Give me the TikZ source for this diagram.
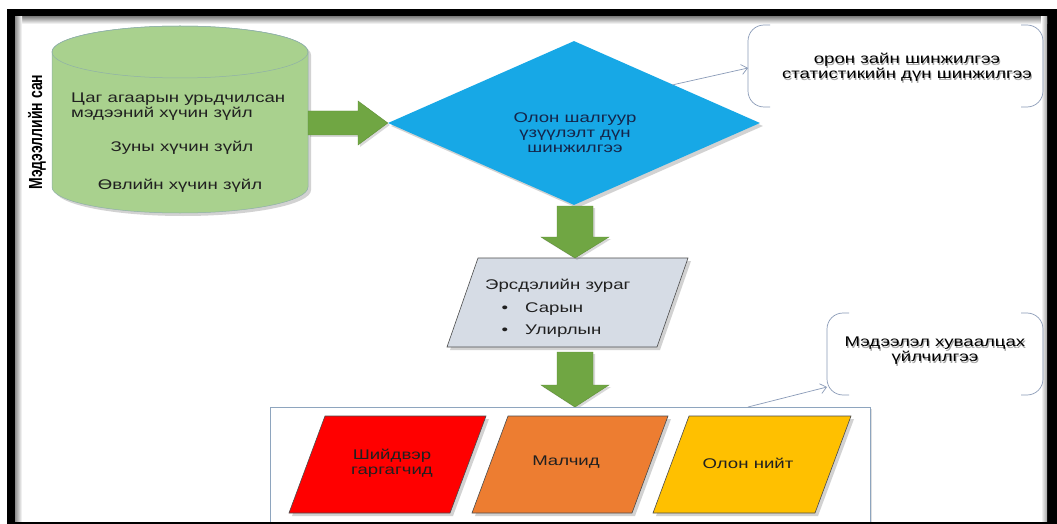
\documentclass[tikz,border=0pt]{standalone}
\usepackage{fontspec}
\setmainfont{Liberation Sans}[FakeStretch=1.33]
\newfontfamily\plainfont{Liberation Sans}
\usetikzlibrary{shapes.geometric,arrows.meta,shadows,calc}
\definecolor{cylgreen}{HTML}{A9D18E}
\definecolor{cylline}{HTML}{8FB0A8}
\definecolor{arrgreen}{HTML}{70A643}
\definecolor{arredge}{HTML}{5E8F35}
\definecolor{diablue}{HTML}{17A8E6}
\definecolor{navytext}{HTML}{14254A}
\definecolor{paragrey}{HTML}{D6DCE5}
\definecolor{callline}{HTML}{8A9BB8}
\definecolor{boxline}{HTML}{8EA5BE}
\definecolor{redfill}{HTML}{FF0000}
\definecolor{orangefill}{HTML}{ED7D31}
\definecolor{yellowfill}{HTML}{FFC000}
\definecolor{txtgrey}{HTML}{202020}
\tikzset{
  txt/.style={font=\fontsize{14}{15}\selectfont, text=txtgrey, inner sep=0pt},
  blockarrow/.style={fill=arrgreen, draw=arredge, line width=0.4pt, drop shadow={shadow xshift=2pt, shadow yshift=-2pt, opacity=0.3}},
  paraframe/.style={draw=black!70, line width=0.6pt, drop shadow={shadow xshift=3pt, shadow yshift=-3pt, opacity=0.35}},
  bracketline/.style={draw=callline, line width=0.7pt, rounded corners=16pt},
  callarrow/.style={draw=callline, line width=0.7pt, -{Straight Barb[length=6pt,width=10pt]}},
  holder/.style={inner sep=0pt, outer sep=0pt}
}
\begin{document}
\begin{tikzpicture}[x=1pt,y=-1pt]
\useasboundingbox (0,0) rectangle (1057,524);
% frame
\fill[black] (7,9) rectangle (1057,524);
\fill[white] (15,17) rectangle (1047,522);
\shade[top color=black!45, bottom color=white] (15,17) rectangle (1047,24);
\shade[left color=black!45, right color=white] (15,17) rectangle (22,522);
\shade[left color=white, right color=black!35] (1041,17) rectangle (1047,522);

% cylinder (database)
\node[holder, minimum width=256pt, minimum height=186pt] (cyl) at (180,120) {};
\path[fill=cylgreen, draw=cylline, line width=0.5pt,
      drop shadow={shadow xshift=3pt, shadow yshift=-3pt, opacity=0.35}]
  (52,52) -- (52,187) arc[start angle=180, end angle=0, x radius=128, y radius=26]
  -- (308,52) arc[start angle=0, end angle=-180, x radius=128, y radius=26] -- cycle;
\draw[cylline, line width=0.5pt] (180,52) ellipse[x radius=128, y radius=26];
\node[txt, anchor=west, align=left] (c1) at (71,107) {Цаг агаарын урьдчилсан\\мэдээний хүчин зүйл};
\node[txt] (c2) at (182,148) {Зуны хүчин зүйл};
\node[txt] (c3) at (180,186) {Өвлийн хүчин зүйл};
\node[rotate=90, inner sep=0pt, font=\plainfont\bfseries\fontsize{14}{15}\selectfont] (side) at (37,132)
  {\scalebox{1}[1.35]{Мэдээллийн сан}};

% diamond
\node[diamond, fill=diablue, minimum width=372pt, minimum height=164pt, inner sep=0pt,
      drop shadow={shadow xshift=3pt, shadow yshift=-3pt, opacity=0.35}] (dia) at (574,123) {};
\node[txt, text=navytext, align=center] (diatext) at (575,133) {Олон шалгуур\\үзүүлэлт дүн\\шинжилгээ};

% horizontal block arrow cylinder -> diamond
\path[blockarrow] (308,111) -- (358,111) -- (358,101) -- (dia.west) -- (358,145) -- (358,135) -- (308,135) -- cycle;

% callout 1
\node[holder, minimum width=295pt, minimum height=82pt] (call1) at (895.5,66) {};
\draw[bracketline] ($(call1.north west)+(22,0)$) -- (call1.north west) -- (call1.south west) -- ($(call1.south west)+(22,0)$);
\draw[bracketline] ($(call1.north east)+(-22,0)$) -- (call1.north east) -- (call1.south east) -- ($(call1.south east)+(-22,0)$);
\node[txt, align=center, text=black!35] at (908,69) {орон зайн шинжилгээ\\статистикийн дүн шинжилгээ};
\node[txt, align=center, text=black] (call1text) at (907,67) {орон зайн шинжилгээ\\статистикийн дүн шинжилгээ};
\coordinate (dia1) at (672,85);
\draw[callarrow] (dia1) -- ($(call1.west)+(0,2)$);

% risk map parallelogram
\node[holder, minimum width=241pt, minimum height=89pt] (risk) at (567.5,302.5) {};
\path[fill=paragrey, paraframe] (478,258) -- (688,258) -- (657,347) -- (447,347) -- cycle;
\node[txt, anchor=west] (r1) at (485,286) {Эрсдэлийн зураг};
\node[txt] (b1) at (505,309) {•};
\node[txt, anchor=west] (r2) at (525,309) {Сарын};
\node[txt] (b2) at (505,331) {•};
\node[txt, anchor=west] (r3) at (525,331) {Улирлын};

% vertical block arrows
\path[blockarrow] (557,206) -- (593,206) -- (593,237) -- (609,237) -- (575,258) -- (541,237) -- (557,237) -- cycle;
\path[blockarrow] (557,352) -- (593,352) -- (593,385) -- (609,385) -- (575,407) -- (541,385) -- (557,385) -- cycle;

% bottom box
\node[holder, minimum width=600pt, minimum height=115pt] (users) at (570,464.5) {};
\path[draw=boxline, line width=0.8pt, fill=white, drop shadow={shadow xshift=2pt, shadow yshift=-2pt, opacity=0.25}] (270,522) -- (270,407) -- (870,407) -- (870,522);
\path[fill=redfill, paraframe] (325,416) -- (486,416) -- (450,513) -- (289,513) -- cycle;
\path[fill=orangefill, paraframe] (508,416) -- (668,416) -- (632,513) -- (472,513) -- cycle;
\path[fill=yellowfill, paraframe] (689,416) -- (851,416) -- (815,513) -- (653,513) -- cycle;
\node[txt, align=center] (u1) at (392,463) {Шийдвэр\\гаргагчид};
\node[txt] (u2) at (566,462) {Малчид};
\node[txt] (u3) at (748,463) {Олон нийт};

% callout 2
\node[holder, minimum width=216pt, minimum height=82pt] (call2) at (935,354) {};
\draw[bracketline] ($(call2.north west)+(22,0)$) -- (call2.north west) -- (call2.south west) -- ($(call2.south west)+(22,0)$);
\draw[bracketline] ($(call2.north east)+(-22,0)$) -- (call2.north east) -- (call2.south east) -- ($(call2.south east)+(-22,0)$);
\node[txt, align=center, text=black!35] at (936,353) {Мэдээлэл хуваалцах\\үйлчилгээ};
\node[txt, align=center, text=black] (call2text) at (935,351) {Мэдээлэл хуваалцах\\үйлчилгээ};
\coordinate (box1) at (748,407);
\draw[callarrow] (box1) -- ($(call2.south west)+(0,-8)$);

% bottom edge of frame
\fill[black] (7,522) rectangle (1057,524);
\end{tikzpicture}
\end{document}
